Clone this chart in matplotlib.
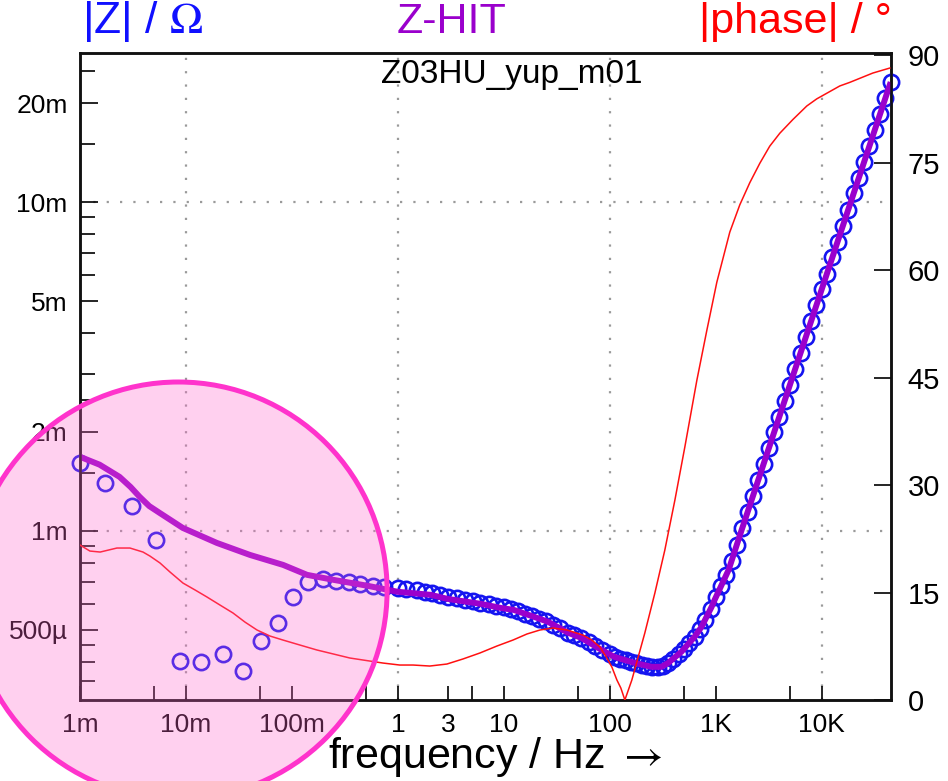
import matplotlib
matplotlib.use("Agg")
import matplotlib.pyplot as plt
from matplotlib.patches import Circle
import numpy as np

plt.rcParams['font.family'] = ['Liberation Sans', 'DejaVu Sans']
plt.rcParams['mathtext.fontset'] = 'stix'

# measured |Z| (circles): frequency in Hz, |Z| in mOhm
freq_meas = [1.0e-3, 1.74e-3, 3.11e-3, 5.26e-3, 8.87e-3, 1.40e-2, 2.25e-2, 3.47e-2,
             5.07e-2, 7.45e-2, 0.103, 0.143, 0.196, 0.262, 0.343, 0.443, 0.583, 0.735,
             1.0, 1.2, 1.5, 1.8, 2.1, 2.5, 3.0, 3.6, 4.3, 5.1, 6.0, 7.2, 8.5,
             10, 11.6, 13.6, 15.8, 18.5, 21.5, 25, 29, 34, 40, 46, 54, 63, 73, 85,
             100, 112, 126, 141, 158, 178, 200, 224, 251, 282, 316, 355, 398, 447,
             501, 562, 631, 708, 794, 891,
             1000, 1120, 1260, 1410, 1580, 1780, 2000, 2240, 2510, 2820, 3160, 3550,
             3980, 4470, 5010, 5620, 6310, 7080, 7940, 8910,
             10000, 11200, 12600, 14100, 15800, 17800, 20000, 22400, 25100, 28200,
             31600, 35500, 39800, 44700]
z_meas = [1.61, 1.40, 1.19, 0.935, 0.403, 0.399, 0.422, 0.376,
          0.464, 0.524, 0.628, 0.701, 0.715, 0.703, 0.697, 0.689, 0.682, 0.674,
          0.670, 0.665, 0.659, 0.653, 0.647, 0.638, 0.630, 0.623, 0.616, 0.610, 0.604, 0.598, 0.591,
          0.585, 0.578, 0.569, 0.560, 0.550, 0.541, 0.532, 0.519, 0.505, 0.490, 0.482, 0.472, 0.458, 0.446, 0.433,
          0.421, 0.413, 0.409, 0.404, 0.400, 0.396, 0.392, 0.389, 0.386, 0.385, 0.388, 0.396, 0.409, 0.422,
          0.438, 0.457, 0.477, 0.502, 0.537, 0.579,
          0.628, 0.678, 0.736, 0.811, 0.909, 1.020, 1.143, 1.276, 1.426, 1.594, 1.782, 1.993,
          2.227, 2.490, 2.784, 3.112, 3.479, 3.890, 4.348, 4.862,
          5.435, 6.061, 6.792, 7.578, 8.474, 9.491, 10.63, 11.87, 13.27, 14.83,
          16.58, 18.53, 20.72, 23.16]

# Z-HIT reconstruction (purple line)
freq_zhit = [1e-3, 1.53e-3, 2.36e-3, 3.0e-3, 3.65e-3, 4.5e-3, 5.65e-3, 9.33e-3, 1.96e-2,
             4.02e-2, 8.26e-2, 0.139, 0.245, 0.515, 0.99, 2.04, 2.95, 6.06, 9.37, 12.4,
             19.2, 26.1, 40.4, 53.6, 83, 110, 170, 247, 307, 357, 474, 630, 734, 912,
             975, 1321, 1754, 5010, 10000, 20000, 44700]
z_zhit = [1.68, 1.59, 1.46, 1.36, 1.27, 1.19, 1.134, 1.021, 0.919,
          0.845, 0.788, 0.735, 0.710, 0.681, 0.653, 0.639, 0.621, 0.600, 0.583, 0.575,
          0.548, 0.529, 0.490, 0.473, 0.435, 0.414, 0.397, 0.386, 0.386, 0.397, 0.429, 0.476, 0.511, 0.587,
          0.617, 0.761, 1.007, 2.784, 5.435, 10.63, 23.16]

# |phase| in degrees (red line)
freq_phase = [1.00e-3, 1.24e-3, 1.55e-3, 2.23e-3, 2.96e-3, 3.93e-3, 4.57e-3, 5.69e-3,
              7.07e-3, 9.37e-3, 1.22e-2, 1.58e-2, 2.09e-2, 2.78e-2, 3.60e-2, 4.68e-2,
              6.20e-2, 8.22e-2, 0.119, 0.172, 0.352, 0.721, 1.04, 1.39, 2.00, 2.90,
              4.10, 5.94, 8.59, 12.2, 16.5, 21.9, 29.0, 39.3, 55.6, 67.6, 80.5, 93.7,
              104.5, 116.5, 127, 138.6, 161.3, 213.8, 266, 330, 411, 510, 662, 823,
              1022, 1355, 1683, 2093, 2600, 3229, 4016, 5324, 7215, 8970, 14790,
              18370, 30290, 43850]
phase = [21.63, 20.79, 20.65, 21.21, 21.21, 20.65, 20.09, 19.12,
         17.86, 16.32, 15.35, 14.37, 13.26, 12.14, 10.88, 9.77,
         8.93, 8.37, 7.67, 6.98, 5.86, 5.16, 4.88, 4.88, 4.74, 5.02,
         5.72, 6.56, 7.53, 8.37, 9.21, 9.77, 10.05, 9.77, 9.07, 8.37, 7.40, 5.86,
         4.6, 2.8, 1.67, 0.0, 2.79, 9.35, 14.93, 20.9, 27.9, 35.3, 44.6, 51.6,
         58.3, 65.3, 69.1, 72.2, 74.9, 77.3, 79.1, 81.0, 82.9, 83.9, 85.7,
         86.2, 87.5, 88.2]

x_ticks = [1e-3, 1e-2, 1e-1, 1, 3, 10, 100, 1e3, 1e4]
x_labels = ["1m", "10m", "100m", "1", "3", "10", "100", "1K", "10K"]
x_minor = [5e-3, 5e-2, 0.5, 5, 50, 500, 5e3]
y_ticks = [0.5e-3, 1e-3, 2e-3, 5e-3, 10e-3, 20e-3]
y_labels = ["500\u00b5", "1m", "2m", "5m", "10m", "20m"]
y_minor = [0.35e-3, 0.4e-3, 0.45e-3, 0.6e-3, 0.7e-3, 0.8e-3, 0.9e-3, 1.5e-3,
           2.5e-3, 3e-3, 4e-3, 6e-3, 7e-3, 8e-3, 9e-3, 15e-3, 25e-3]
phase_ticks = [0, 15, 30, 45, 60, 75, 90]

fig = plt.figure(figsize=(9.48, 7.81), dpi=100)
ax = fig.add_axes([80 / 948, 81 / 781, 811 / 948, 647 / 781])
ax.set_xscale('log')
ax.set_yscale('log')
ax.set_xlim(1e-3, 4.5e4)
ax.set_ylim(3.06e-4, 2.84e-2)

ax.plot(np.array(freq_meas), np.array(z_meas) * 1e-3, 'o', ms=11, mfc='none',
        mec='#1414f0', mew=1.9, clip_on=False, zorder=3)
ax.plot(np.array(freq_zhit), np.array(z_zhit) * 1e-3, color='#9a00cc', lw=4.3,
        solid_capstyle='butt', zorder=4)

ax.set_xticks(x_ticks)
ax.set_xticklabels(x_labels)
ax.set_xticks(x_minor, minor=True)
ax.set_yticks(y_ticks)
ax.set_yticklabels(y_labels)
ax.set_yticks(y_minor, minor=True)
ax.tick_params(axis='x', which='both', direction='in', length=10, width=1.2,
               labelsize=19, pad=9, top=False)
ax.tick_params(axis='y', which='major', direction='in', length=13, width=1.2,
               labelsize=19, pad=9)
ax.tick_params(axis='y', which='minor', direction='in', length=11, width=1.2)

for v in [1e-2, 1, 100, 1e4]:
    ax.axvline(v, color='#9a9a9a', lw=1.6, ls=(0, (1, 5)), zorder=1)
for v in [1e-3, 1e-2]:
    ax.axhline(v, color='#9a9a9a', lw=1.6, ls=(0, (1, 5)), zorder=1)

ax2 = ax.twinx()
ax2.set_ylim(0, 90.3)
ax2.plot(freq_phase, phase, color='#ff1010', lw=1.1, zorder=5)
ax2.set_yticks(phase_ticks)
ax2.tick_params(axis='y', direction='in', length=12, width=1.2, labelsize=21, pad=12)

for a in (ax, ax2):
    for s in a.spines.values():
        s.set_linewidth(1.8)
        s.set_color('#111111')

fig.text(82 / 948, 0.972, r"|Z| / $\Omega$", color='#1010ff', fontsize=32,
         ha='left', va='center')
fig.text(452 / 948, 0.972, "Z-HIT", color='#9a00cc', fontsize=31,
         ha='center', va='center')
fig.text(892 / 948, 0.972, "|phase| / \u00b0", color='#ff0000', fontsize=31,
         ha='right', va='center')
fig.text(512 / 948, 1 - 75 / 781, "Z03HU_yup_m01", color='black', fontsize=24,
         ha='center', va='center')
fig.text(495 / 948, 1 - 757 / 781, r"frequency / Hz $\rightarrow$", color='black',
         fontsize=31, ha='center', va='center')

circ = Circle((1.785, 1.904), 2.086, transform=fig.dpi_scale_trans,
              facecolor=(1.0, 0.4, 0.8, 0.3), edgecolor='#ff33cc', lw=3.6,
              zorder=10)
fig.add_artist(circ)

fig.savefig("out.png", dpi=100)
